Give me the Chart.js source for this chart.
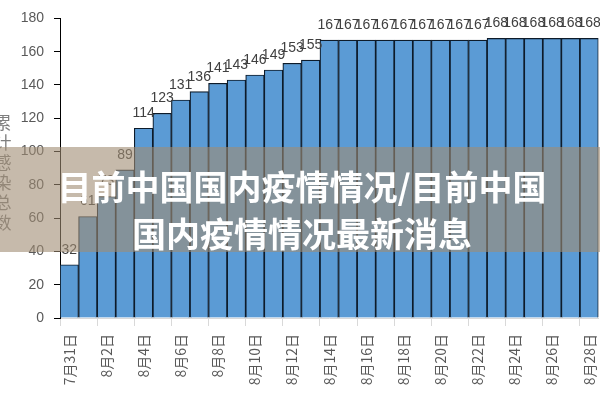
<!DOCTYPE html>
<html>
<head>
<meta charset="utf-8">
<script src="https://cdn.jsdelivr.net/npm/chart.js@4.4.0/dist/chart.umd.min.js"></script>
<style>
    html, body { margin: 0; padding: 0; background: #fff; }
    .wrap { position: relative; width: 600px; height: 400px; overflow: hidden; }
    .canvas-box { position: absolute; left: 0; top: 0; width: 614px; height: 400px; }
    .banner {
        position: absolute; left: 0; top: 147px; width: 600px; height: 105px;
        background: rgba(160, 140, 115, 0.6);
        color: #fff; font-family: "Noto Sans CJK SC", sans-serif; font-weight: 700;
        font-size: 34px; line-height: 47px; text-align: center;
        padding-top: 15px; padding-left: 4px; box-sizing: border-box;
    }
</style>
</head>
<body>
<div class="wrap">
    <div class="canvas-box"><canvas id="chart" width="614" height="400"></canvas></div>
    <div class="banner">目前中国国内疫情情况/目前中国<br>国内疫情情况最新消息</div>
</div>
<script>
// Data
const dates = ['7月31日', '8月1日', '8月2日', '8月3日', '8月4日', '8月5日', '8月6日', '8月7日',
    '8月8日', '8月9日', '8月10日', '8月11日', '8月12日', '8月13日', '8月14日', '8月15日',
    '8月16日', '8月17日', '8月18日', '8月19日', '8月20日', '8月21日', '8月22日', '8月23日',
    '8月24日', '8月25日', '8月26日', '8月27日', '8月28日'];
const totalCases = [32, 61, 73, 89, 114, 123, 131, 136, 141, 143, 146, 149, 153, 155, 167, 167,
    167, 167, 167, 167, 167, 167, 167, 168, 168, 168, 168, 168, 168];
const yTicks = [0, 20, 40, 60, 80, 100, 120, 140, 160, 180];
const yTitle = '累计感染总数';

// Value labels above bars
const valueLabels = {
    id: 'valueLabels',
    afterDatasetsDraw(chart) {
        const ctx = chart.ctx;
        const meta = chart.getDatasetMeta(0);
        ctx.save();
        ctx.font = '14px "Liberation Sans", sans-serif';
        ctx.fillStyle = '#404040';
        ctx.textAlign = 'center';
        ctx.textBaseline = 'alphabetic';
        meta.data.forEach((bar, i) => {
            ctx.fillText(totalCases[i], bar.x, bar.y - 11);
        });
        ctx.restore();
    }
};

// Stacked vertical axis title
const stackedTitle = {
    id: 'stackedTitle',
    afterDraw(chart) {
        const ctx = chart.ctx;
        ctx.save();
        ctx.font = '17px "Noto Sans CJK SC", sans-serif';
        ctx.fillStyle = '#7f7f7f';
        ctx.textAlign = 'center';
        ctx.textBaseline = 'middle';
        [...yTitle].forEach((ch, i) => {
            ctx.fillText(ch, 3, 123 + i * 20);
        });
        ctx.restore();
    }
};

new Chart(document.getElementById('chart'), {
    type: 'bar',
    data: {
        labels: dates,
        datasets: [{
            data: totalCases,
            backgroundColor: '#5b9bd5',
            borderColor: '#0d1b2a',
            borderWidth: 1.2,
            categoryPercentage: 1,
            barPercentage: 1
        }]
    },
    options: {
        responsive: false,
        animation: false,
        layout: { padding: { top: 16, left: 0, right: 0, bottom: 0 } },
        plugins: {
            legend: { display: false },
            tooltip: { enabled: false }
        },
        scales: {
            x: {
                offset: true,
                border: { color: '#d9d9d9' },
                grid: {
                    drawOnChartArea: false,
                    tickLength: 8,
                    color: (c) => (c.index % 2 === 0 ? '#d9d9d9' : 'rgba(0,0,0,0)')
                },
                ticks: {
                    autoSkip: false,
                    maxRotation: 90,
                    minRotation: 90,
                    padding: 8,
                    color: '#595959',
                    font: { size: 14, family: '"Noto Sans CJK SC", "Liberation Sans", sans-serif' },
                    callback: function(value, index) {
                        return index % 2 === 0 ? dates[index] : '';
                    }
                },
                afterFit: (scale) => { scale.height = 82; }
            },
            y: {
                min: 0,
                max: 180,
                afterBuildTicks: (scale) => { scale.ticks = yTicks.map(v => ({ value: v })); },
                border: { color: '#000', width: 1 },
                grid: { drawOnChartArea: false, tickLength: 6, color: '#000' },
                ticks: {
                    padding: 10,
                    color: '#595959',
                    font: { size: 14, family: '"Liberation Sans", sans-serif' }
                },
                afterFit: (scale) => { scale.width = 60; }
            }
        }
    },
    plugins: [valueLabels, stackedTitle]
});
</script>
</body>
</html>
